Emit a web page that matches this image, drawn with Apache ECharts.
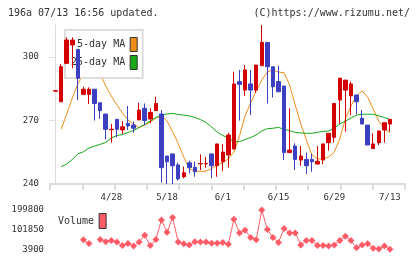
<!DOCTYPE html>
<html>
<head>
<meta charset="utf-8">
<script src="https://cdn.jsdelivr.net/npm/echarts@6/dist/echarts.min.js"></script>
<style>
    html, body { margin: 0; padding: 0; background: #fff; }
    #chart { width: 420px; height: 259px; }
</style>
</head>
<body>
<div id="chart"></div>
<script>
// daily prices, index 0..60
var open = [283.8, 278.8, 296.9, 305.6, 303.5, 282.3, 282.3, 284.7, 278.3, 273.0,
    265.6, 270.5, 265.5, 268.6, 267.8, 270.2, 275.7, 270.7, 274.6, 273.0,
    253.2, 254.2, 249.0, 243.4, 250.0, 247.9, 249.5, 249.5, 254.2, 248.6,
    250.5, 253.7, 256.5, 288.3, 284.3, 287.2, 284.3, 295.8, 306.8, 295.3,
    288.3, 286.2, 254.8, 257.9, 251.3, 251.6, 251.6, 249.4, 251.3, 259.5,
    262.0, 279.6, 284.3, 281.5, 282.0, 271.0, 267.8, 256.7, 259.5, 265.5,
    268.3];
var close = [284.0, 295.3, 307.9, 307.9, 289.9, 284.7, 284.7, 278.0, 274.6, 265.8,
    265.8, 265.8, 267.0, 267.4, 266.3, 274.9, 269.9, 273.8, 278.0, 247.7,
    250.5, 248.6, 242.4, 245.3, 247.7, 245.8, 249.7, 249.7, 248.6, 258.9,
    255.1, 263.1, 287.2, 287.0, 293.8, 284.3, 296.1, 306.8, 295.3, 285.9,
    283.5, 254.8, 256.0, 251.6, 253.2, 248.6, 250.5, 250.7, 258.9, 263.9,
    278.0, 289.9, 289.0, 287.2, 278.8, 268.3, 258.4, 258.9, 265.0, 268.9,
    270.5];
var low = [283.8, 278.8, 296.9, 294.6, 279.6, 282.3, 277.7, 269.9, 270.7, 261.0,
    259.5, 262.0, 263.6, 265.5, 264.2, 270.2, 267.8, 268.6, 274.6, 240.6,
    240.0, 240.0, 241.6, 242.7, 245.0, 243.4, 246.6, 247.6, 242.7, 243.4,
    246.1, 247.7, 256.5, 269.9, 281.5, 272.5, 283.0, 295.8, 278.0, 280.8,
    283.5, 251.3, 254.8, 246.6, 248.6, 244.7, 245.8, 249.4, 249.4, 255.7,
    259.5, 268.3, 264.7, 272.5, 272.9, 268.3, 258.4, 256.7, 258.4, 259.5,
    264.7];
var high = [284.0, 296.6, 309.2, 309.2, 303.5, 285.9, 285.6, 284.7, 278.3, 273.0,
    268.3, 270.5, 269.7, 276.8, 269.4, 278.3, 278.0, 275.7, 281.2, 274.9,
    253.2, 254.2, 250.0, 248.2, 251.0, 250.5, 254.0, 252.8, 254.2, 258.9,
    258.9, 264.2, 293.0, 293.8, 296.1, 293.8, 296.1, 315.0, 306.8, 295.3,
    295.8, 286.2, 275.7, 259.2, 257.9, 254.8, 254.2, 257.9, 258.9, 263.9,
    278.0, 289.9, 289.0, 288.3, 282.0, 274.9, 267.8, 263.9, 265.0, 268.9,
    270.5];

var ma5 = [null, 265.8, 273.0, 280.6, 287.2, 291.9, 294.7, 295.2, 291.9, 286.2,
    281.5, 277.3, 273.5, 270.2, 268.3, 266.6, 267.8, 269.2, 271.1, 272.3,
    269.7, 264.8, 259.1, 252.7, 247.1, 246.1, 245.9, 246.1, 247.3, 249.0,
    250.1, 251.8, 255.1, 262.6, 272.1, 278.2, 283.9, 289.1, 292.8, 293.8,
    292.8, 292.5, 286.7, 277.3, 268.3, 260.8, 253.7, 251.8, 251.8, 252.7,
    255.1, 261.2, 270.7, 276.8, 281.5, 283.9, 281.0, 275.4, 269.7, 266.2,
    264.1];
var ma25 = [null, 248.2, 249.4, 251.6, 254.2, 255.2, 257.0, 257.9, 258.7, 259.6,
    261.7, 262.9, 263.3, 264.3, 265.2, 266.7, 268.1, 269.7, 271.4, 272.5,
    273.0, 273.3, 272.8, 272.5, 272.1, 271.4, 270.4, 269.0, 266.9, 264.5,
    262.9, 261.7, 260.0, 260.0, 261.0, 261.9, 263.1, 265.0, 266.1, 266.3,
    266.7, 265.8, 265.2, 264.3, 264.1, 263.9, 263.9, 264.4, 264.8, 265.0,
    266.4, 268.3, 269.7, 271.1, 272.5, 272.9, 272.9, 272.9, 272.1, 271.4,
    270.4];

var volume = [null, null, null, null, null, 51470, 32540, null, 53000, 41240,
    47890, 39700, 22310, 32540, 20780, 39700, 73460, 22310, 53000, 150190,
    88810, 162470, 39700, 31010, 25890, 41240, 39700, 39700, 34590, 34590,
    37660, 29480, 153770, 85740, 99040, 63230, 51470, 199800, 102620, 63230,
    37660, 107730, 85740, 85740, 25890, 47890, 47890, 22310, 22310, 20780,
    25890, 47890, 68350, 47890, 12080, 25890, 31010, 9015, 5430, 20780,
    3900];

var dateLabels = ['4/28', '5/18', '6/1', '6/15', '6/29', '7/13'];
var dateIndex = [10, 20, 30, 40, 50, 60];
var priceTicks = [240, 270, 300];
var volumeTicks = [3900, 101850, 199800];

var RED = '#d40000';
var BLUE = '#3c40c0';
var MONO = 'DejaVu Sans Mono';
var X_MIN = -1, X_MAX = 62.7;

var candles = [], ma5Data = [], ma25Data = [], volData = [];
for (var i = 0; i < open.length; i++) {
    candles.push([i, open[i], close[i], low[i], high[i]]);
    ma5Data.push([i, ma5[i]]);
    ma25Data.push([i, ma25[i]]);
    volData.push([i, volume[i]]);
}

// the bottom axis has 11 even divisions, not tied to the days
var gridTicks = [];
for (var k = 0; k <= 11; k++) {
    gridTicks.push(X_MIN + k * (X_MAX - X_MIN) / 11);
}

const myChart = echarts.init(document.getElementById('chart'));

const option = {
    animation: false,
    backgroundColor: '#fff',
    graphic: [
        {
            type: 'text', left: 8, top: 8,
            style: { text: '196a 07/13 16:56 updated.', font: '10px ' + MONO, fill: '#333' }
        },
        {
            type: 'text', right: 10, top: 8,
            style: { text: '(C)https://www.rizumu.net/', font: '10px ' + MONO, fill: '#333' }
        }
    ],
    legend: [
        {
            data: ['5-day MA', '25-day MA'],
            orient: 'vertical',
            left: 65,
            top: 30,
            align: 'right',
            icon: 'rect',
            itemWidth: 7,
            itemHeight: 14,
            itemGap: 3,
            padding: [7, 5, 8, 6],
            backgroundColor: 'rgba(255,255,255,0.92)',
            borderColor: '#dcdcdc',
            borderWidth: 2,
            selectedMode: false,
            z: 2,
            itemStyle: { borderColor: '#333', borderWidth: 1 },
            textStyle: { fontFamily: MONO, fontSize: 10, color: '#333' }
        },
        {
            data: ['Volume'],
            left: 58,
            top: 213,
            align: 'right',
            icon: 'rect',
            itemWidth: 7,
            itemHeight: 15,
            padding: 0,
            selectedMode: false,
            itemStyle: { borderColor: '#333', borderWidth: 1 },
            textStyle: { fontFamily: MONO, fontSize: 10, color: '#333' }
        }
    ],
    grid: [
        { left: 50, right: 15, top: 25, height: 159 },
        { left: 50, right: 15, top: 210, height: 39.3 }
    ],
    xAxis: [
        {
            gridIndex: 0,
            type: 'value',
            min: X_MIN,
            max: X_MAX,
            splitLine: { show: false },
            axisLine: { lineStyle: { color: '#dcdcdc', width: 2 } },
            axisTick: {
                customValues: gridTicks,
                length: 6,
                lineStyle: { color: '#dcdcdc', width: 2 }
            },
            axisLabel: {
                customValues: dateIndex,
                margin: 9,
                fontFamily: MONO,
                fontSize: 9,
                color: '#333',
                formatter: function (v) {
                    var p = dateIndex.indexOf(Math.round(v));
                    return p >= 0 ? dateLabels[p] : '';
                }
            }
        },
        {
            gridIndex: 1,
            type: 'value',
            min: X_MIN,
            max: X_MAX,
            show: false
        }
    ],
    yAxis: [
        {
            gridIndex: 0,
            type: 'value',
            min: 240,
            max: 315,
            splitLine: { show: false },
            axisLine: { show: true, lineStyle: { color: '#dcdcdc', width: 1 } },
            axisTick: {
                customValues: priceTicks,
                length: 6,
                lineStyle: { color: '#dcdcdc', width: 1 }
            },
            axisLabel: {
                customValues: priceTicks,
                margin: 11,
                fontFamily: MONO,
                fontSize: 9,
                color: '#333',
                formatter: function (v) { return String(v); }
            }
        },
        {
            gridIndex: 1,
            type: 'value',
            min: 3900,
            max: 199800,
            splitLine: { show: false },
            axisLine: { show: false },
            axisTick: { show: false },
            axisLabel: {
                customValues: volumeTicks,
                margin: 6,
                fontFamily: MONO,
                fontSize: 9,
                color: '#333',
                formatter: function (v) { return String(v); }
            }
        }
    ],
    series: [
        {
            name: 'price',
            type: 'candlestick',
            xAxisIndex: 0,
            yAxisIndex: 0,
            barWidth: 4,
            z: 3,
            itemStyle: {
                color: RED,
                color0: BLUE,
                borderColor: RED,
                borderColor0: BLUE,
                borderWidth: 1
            },
            data: candles
        },
        {
            name: '5-day MA',
            type: 'line',
            xAxisIndex: 0,
            yAxisIndex: 0,
            z: 1,
            showSymbol: false,
            symbol: 'none',
            color: '#f08c1a',
            lineStyle: { width: 1, color: '#f08c1a' },
            data: ma5Data
        },
        {
            name: '25-day MA',
            type: 'line',
            xAxisIndex: 0,
            yAxisIndex: 0,
            z: 1,
            showSymbol: false,
            symbol: 'none',
            color: '#16a816',
            lineStyle: { width: 1, color: '#16a816' },
            data: ma25Data
        },
        {
            name: 'Volume',
            type: 'line',
            xAxisIndex: 1,
            yAxisIndex: 1,
            symbol: 'diamond',
            symbolSize: 7,
            color: '#ff5c68',
            lineStyle: { width: 1, color: '#ff5c68' },
            data: volData
        }
    ]
};
myChart.setOption(option);
</script>
</body>
</html>
